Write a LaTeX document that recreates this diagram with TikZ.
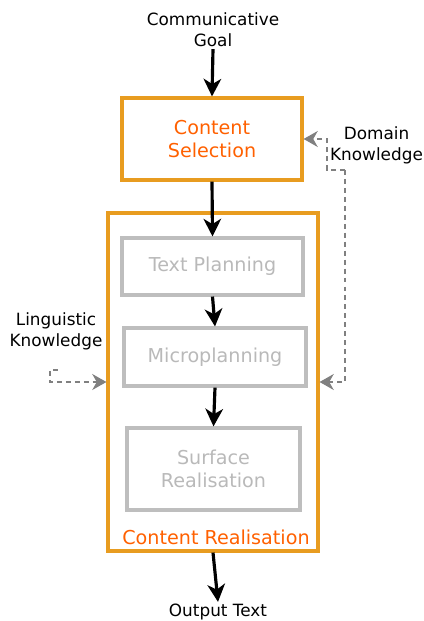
\documentclass[tikz,border=0pt]{standalone}
\usepackage{fontspec}
\setmainfont{DejaVu Sans}
\usetikzlibrary{positioning}
\usetikzlibrary{calc}
\usetikzlibrary{arrows.meta}

\definecolor{boxorange}{HTML}{E89C20}
\definecolor{txtorange}{HTML}{FF6000}
\definecolor{boxgray}{HTML}{BEBEBE}
\definecolor{txtgray}{HTML}{B9B9B9}
\definecolor{kngray}{HTML}{808080}

\begin{document}
\begin{tikzpicture}
\tikzstyle{stage} =[rectangle,draw=boxorange,line width=1.8pt,text=txtorange,align=center,font=\fontsize{10.9}{13.2}\selectfont]
\tikzstyle{substage} =[rectangle,draw=boxgray,line width=1.8pt,text=txtgray,align=center,font=\fontsize{10.9}{13.2}\selectfont]
\tikzstyle{ext} =[align=center,inner sep=1pt,font=\fontsize{9.6}{11.9}\selectfont]
\tikzstyle{flow} =[line width=1.8pt,-{Stealth[length=10pt,width=10pt,inset=3pt]}]
\tikzstyle{know} =[kngray,line width=1.5pt,dash pattern=on 2.8pt off 2.3pt,-{Stealth[length=8pt,width=9pt,inset=2.5pt]}]

\node[stage,minimum width=3.6cm,minimum height=1.64cm](sel) at (0, 0) {Content\\Selection};
\useasboundingbox ($(sel)+(-4.24,-9.64)$) rectangle ($(sel)+(4.22,2.78)$);

\node[ext](goal) at ($(sel)+(0.02,2.18)$){Communicative\\Goal};
\draw[flow] (goal.south)--(sel.north);

\node[stage,minimum width=4.2cm,minimum height=6.76cm](real) at ($(sel)+(0.02,-4.86)$){};
\node[text=txtorange,font=\fontsize{10.9}{13.2}\selectfont](realtxt) at ($(sel)+(0.08,-7.96)$){Content Realisation};

\node[substage,minimum width=3.62cm,minimum height=1.14cm](plan) at ($(sel)+(0.01,-2.55)$){Text Planning};
\node[substage,minimum width=3.64cm,minimum height=1.16cm](micro) at ($(sel)+(0.06,-4.36)$){Microplanning};
\node[substage,minimum width=3.46cm,minimum height=1.64cm](surf) at ($(sel)+(0.03,-6.60)$){Surface\\Realisation};

\draw[flow] (sel.south)--(plan.north);
\draw[flow] (plan.south)--(micro.north);
\draw[flow] (micro.south)--(surf.north);

\node[ext](out) at ($(sel)+(0.12,-9.46)$){Output Text};
\draw[flow] (real.south)--(out.north);

%domain knowledge feeds both stages
\node[ext](dom) at ($(sel)+(3.29,-0.12)$){Domain\\Knowledge};
\coordinate(dk) at ($(sel)+(2.66,-0.62)$);
\coordinate(dkA) at ($(sel)+(2.30,-0.62)$);
\draw[know] (dk)--(dkA)|-(sel.east);
\draw[know] (dk)|-(real.east);

\node[ext](ling) at ($(sel)+(-3.12,-3.85)$){Linguistic\\Knowledge};
\coordinate(lk) at ($(sel)+(-3.08,-4.62)$);
\coordinate(lkA) at ($(sel)+(-3.24,-4.62)$);
\draw[know] (lk)--(lkA)|-(real.west);
\end{tikzpicture}
\end{document}
